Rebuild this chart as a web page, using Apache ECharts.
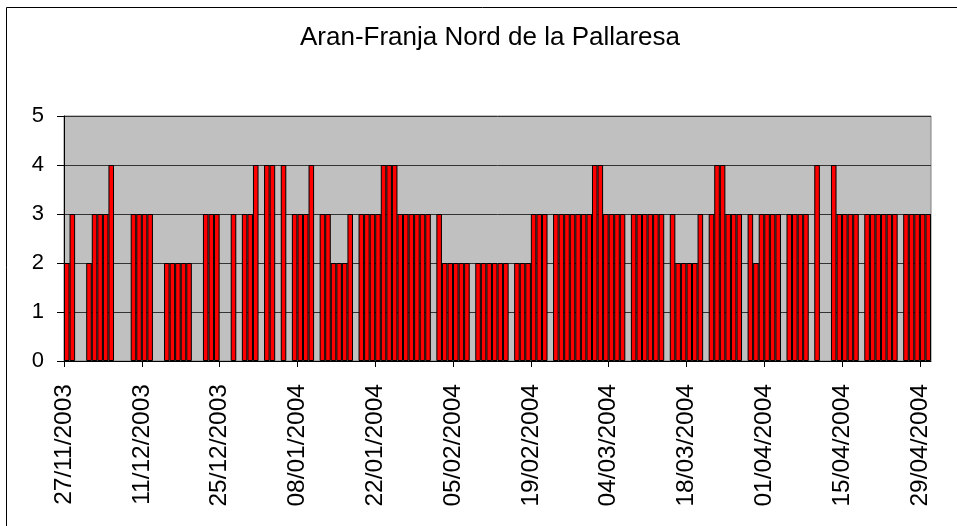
<!DOCTYPE html>
<html>
<head>
<meta charset="utf-8">
<script src="https://cdn.jsdelivr.net/npm/echarts@6/dist/echarts.min.js"></script>
<style>
html,body{margin:0;padding:0;background:#fff;}
#chart{width:957px;height:526px;}
</style>
</head>
<body>
<div id="chart"></div>
<script>
// Daily values (null = no bar that day)
var nov2003 = [2, 3, null, null];                       // 27-30 Nov 2003
var dec2003 = [2, 3, 3, 3, 4, null, null, null, 3, 3, 3, 3, null, null, 2, 2, 2, 2, 2, null, null, 3, 3, 3, null, null, 3, null, 3, 3, 4];
var jan2004 = [null, 4, 4, null, 4, null, 3, 3, 3, 4, null, 3, 3, 2, 2, 2, 3, null, 3, 3, 3, 3, 4, 4, 4, 3, 3, 3, 3, 3, 3];
var feb2004 = [null, 3, 2, 2, 2, 2, 2, null, 2, 2, 2, 2, 2, 2, null, 2, 2, 2, 3, 3, 3, null, 3, 3, 3, 3, 3, 3, 3];
var mar2004 = [4, 4, 3, 3, 3, 3, null, 3, 3, 3, 3, 3, 3, null, 3, 2, 2, 2, 2, 3, null, 3, 4, 4, 3, 3, 3, null, 3, 2, 3];
var apr2004 = [3, 3, 3, null, 3, 3, 3, 3, null, 4, null, null, 4, 3, 3, 3, 3, null, 3, 3, 3, 3, 3, 3, null, 3, 3, 3, 3, 3];

var tickLabels = ['27/11/2003', '11/12/2003', '25/12/2003', '08/01/2004', '22/01/2004', '05/02/2004',
                  '19/02/2004', '04/03/2004', '18/03/2004', '01/04/2004', '15/04/2004', '29/04/2004'];
var yTicks = [0, 1, 2, 3, 4, 5];

function pad(n) { return (n < 10 ? '0' : '') + n; }
var months = [
  { y: 2003, m: 11, first: 27, vals: nov2003 },
  { y: 2003, m: 12, first: 1, vals: dec2003 },
  { y: 2004, m: 1, first: 1, vals: jan2004 },
  { y: 2004, m: 2, first: 1, vals: feb2004 },
  { y: 2004, m: 3, first: 1, vals: mar2004 },
  { y: 2004, m: 4, first: 1, vals: apr2004 }
];
var categories = [];
var values = [];
months.forEach(function (mo) {
  mo.vals.forEach(function (v, i) {
    categories.push(pad(mo.first + i) + '/' + pad(mo.m) + '/' + mo.y);
    values.push(v);
  });
});

var FONT = 'Arial, "Liberation Sans", sans-serif';
var chart = echarts.init(document.getElementById('chart'), null, { renderer: 'canvas' });
chart.setOption({
  animation: false,
  backgroundColor: '#ffffff',
  title: {
    text: 'Aran-Franja Nord de la Pallaresa',
    left: 485,
    top: 20,
    textAlign: 'center',
    textStyle: { fontFamily: FONT, fontSize: 26, fontWeight: 'normal', color: '#000' }
  },
  graphic: [{
    type: 'rect',
    shape: { x: 6.5, y: 7.5, width: 1000, height: 600 },
    style: { fill: 'none', stroke: '#000', lineWidth: 1 },
    silent: true
  }],
  grid: {
    left: 64, right: 26, top: 116, bottom: 165,
    show: true, backgroundColor: '#c0c0c0', borderColor: '#808080', borderWidth: 1
  },
  xAxis: [{
    type: 'category',
    data: categories,
    position: 'top',
    show: false,
    boundaryGap: true
  }, {
    type: 'value',
    position: 'bottom',
    min: 0, max: categories.length, interval: 14,
    axisLine: { show: true, onZero: false, lineStyle: { color: '#000', width: 1 } },
    axisTick: { show: true, length: 6, lineStyle: { color: '#000' } },
    splitLine: { show: false },
    axisLabel: {
      rotate: 90, margin: 23, fontFamily: FONT, fontSize: 24.5, color: '#000',
      showMaxLabel: false,
      formatter: function (v) { return (v % 14 === 0 && tickLabels[v / 14]) ? tickLabels[v / 14] : ''; }
    }
  }],
  yAxis: {
    type: 'value',
    min: yTicks[0], max: yTicks[yTicks.length - 1], interval: 1,
    axisLine: { show: true, onZero: false, lineStyle: { color: '#000', width: 1 } },
    axisTick: { show: true, length: 7, lineStyle: { color: '#000' } },
    splitLine: { show: true, lineStyle: { color: '#333333', width: 1 } },
    axisLabel: { margin: 20, fontFamily: FONT, fontSize: 22, color: '#000' }
  },
  series: [{
    type: 'bar',
    xAxisIndex: 0,
    data: values,
    barCategoryGap: '0%',
    itemStyle: { color: '#ff0000', borderColor: '#000', borderWidth: 1 }
  }]
});
</script>
</body>
</html>
